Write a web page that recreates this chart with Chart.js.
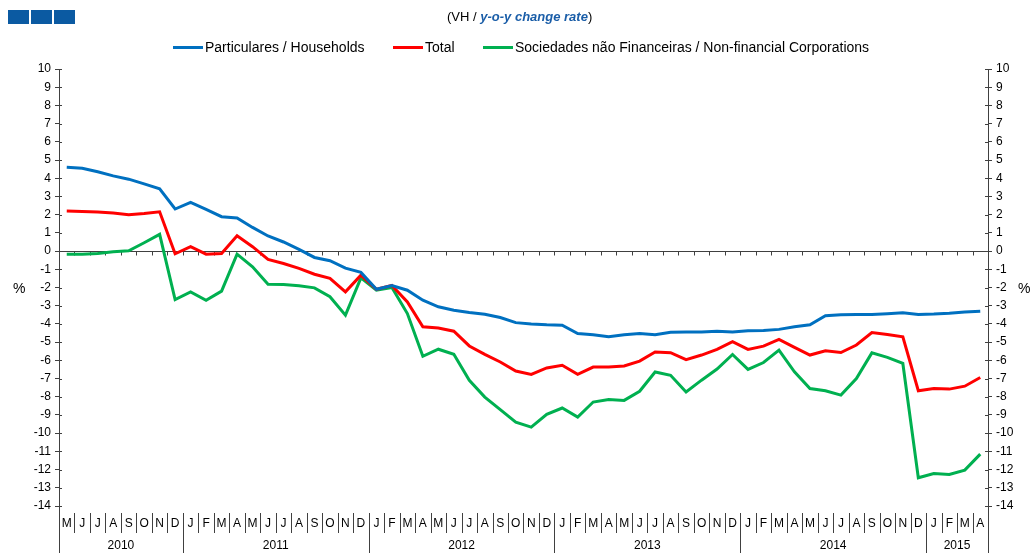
<!DOCTYPE html>
<html lang="pt">
<head>
  <meta charset="UTF-8">
  <title>VH / y-o-y change rate</title>
  <script src="https://cdn.jsdelivr.net/npm/chart.js"></script>
  <style>
    body { margin: 0; background: #fff; font-family: "Liberation Sans", Arial, sans-serif; color: #000; }
    #wrap { position: relative; width: 1031px; height: 553px; overflow: hidden; }
    #wrap canvas { position: absolute; left: 0; top: 0; }
    .sq { position: absolute; top: 10px; width: 21px; height: 14px; background: #0b5aa2; }
    #subtitle { position: absolute; top: 9px; left: 447px; font-size: 13px; white-space: nowrap; }
    #subtitle b { color: #1b5ea8; font-style: italic; }
    .leg { position: absolute; top: 39px; font-size: 14px; white-space: nowrap; }
    .leg span { display: inline-block; width: 30px; height: 3px; vertical-align: middle; margin-right: 2px; position: relative; top: -1px; }
    .pct { position: absolute; top: 280px; font-size: 14px; }
  </style>
</head>
<body>
  <div id="wrap">
    <canvas id="loansChart" width="1031" height="553"></canvas>
    <div class="sq" style="left:8px"></div>
    <div class="sq" style="left:31px"></div>
    <div class="sq" style="left:54px"></div>
    <div id="subtitle">(VH / <b>y-o-y change rate</b>)</div>
    <div class="leg" style="left:173px"><span style="background:#0070c0"></span>Particulares / Households</div>
    <div class="leg" style="left:393px"><span style="background:#ff0000"></span>Total</div>
    <div class="leg" style="left:483px"><span style="background:#00b050"></span>Sociedades não Financeiras / Non-financial Corporations</div>
    <div class="pct" style="left:13px">%</div>
    <div class="pct" style="left:1018px">%</div>
  </div>

  <script>
    // months May 2010 .. Apr 2015
    const months = ['M','J','J','A','S','O','N','D',
      'J','F','M','A','M','J','J','A','S','O','N','D',
      'J','F','M','A','M','J','J','A','S','O','N','D',
      'J','F','M','A','M','J','J','A','S','O','N','D',
      'J','F','M','A','M','J','J','A','S','O','N','D',
      'J','F','M','A'];
    const years = ['2010', '2011', '2012', '2013', '2014', '2015'];
    const yearLengths = [8, 12, 12, 12, 12, 4];

    const households = [4.6, 4.55, 4.36, 4.13, 3.95, 3.69, 3.42, 2.31, 2.68, 2.29,
      1.89, 1.82, 1.3, 0.83, 0.5, 0.09, -0.35, -0.53, -0.94, -1.17,
      -2.1, -1.89, -2.15, -2.7, -3.06, -3.25, -3.37, -3.47, -3.65, -3.93,
      -4.0, -4.05, -4.07, -4.53, -4.59, -4.71, -4.59, -4.53, -4.6, -4.46,
      -4.45, -4.45, -4.4, -4.45, -4.38, -4.36, -4.3, -4.16, -4.05, -3.55,
      -3.5, -3.48, -3.48, -3.44, -3.39, -3.48, -3.46, -3.42, -3.35, -3.3];
    const total = [2.2, 2.18, 2.15, 2.09, 2.0, 2.07, 2.16, -0.15, 0.24, -0.17,
      -0.13, 0.84, 0.24, -0.46, -0.68, -0.95, -1.27, -1.5, -2.24, -1.32,
      -2.1, -1.89, -2.79, -4.16, -4.22, -4.4, -5.21, -5.67, -6.09, -6.59,
      -6.77, -6.42, -6.27, -6.77, -6.37, -6.37, -6.31, -6.04, -5.54, -5.58,
      -5.96, -5.71, -5.4, -4.98, -5.4, -5.22, -4.85, -5.29, -5.71, -5.48,
      -5.57, -5.16, -4.47, -4.58, -4.71, -7.67, -7.55, -7.58, -7.42, -6.94];
    const corporations = [-0.18, -0.18, -0.13, -0.04, 0.02, 0.46, 0.92, -2.66, -2.24, -2.7,
      -2.2, -0.17, -0.86, -1.82, -1.83, -1.91, -2.02, -2.51, -3.52, -1.47,
      -2.15, -2.0, -3.43, -5.78, -5.39, -5.67, -7.1, -8.02, -8.71, -9.39,
      -9.67, -8.97, -8.62, -9.12, -8.29, -8.15, -8.2, -7.7, -6.64, -6.82,
      -7.74, -7.09, -6.48, -5.68, -6.5, -6.12, -5.44, -6.63, -7.55, -7.67,
      -7.91, -7.0, -5.59, -5.84, -6.17, -12.45, -12.22, -12.27, -12.03, -11.15];

    const axisColor = '#404040';

    // zero line, inner ticks and the two-row month/year axis at the bottom
    const axisDecor = {
      id: 'axisDecor',
      beforeDatasetsDraw(chart) {
        const { ctx, chartArea: a, scales: { x, y } } = chart;
        const step = x.getPixelForValue(1) - x.getPixelForValue(0);
        const y0 = Math.round(y.getPixelForValue(0)) + 0.5;
        ctx.save();
        ctx.strokeStyle = axisColor;
        ctx.lineWidth = 1;
        ctx.beginPath();
        ctx.moveTo(a.left, y0);
        ctx.lineTo(a.right, y0);
        for (let i = 0; i <= months.length; i++) {
          const px = Math.round(x.getPixelForValue(i) - step / 2) + 0.5;
          ctx.moveTo(px, y0);
          ctx.lineTo(px, y0 + 4);
        }
        // inner halves of the y ticks
        for (let v = -14; v <= 10; v++) {
          const py = Math.round(y.getPixelForValue(v)) + 0.5;
          ctx.moveTo(a.left, py);
          ctx.lineTo(a.left + 3, py);
          ctx.moveTo(a.right, py);
          ctx.lineTo(a.right - 3, py);
        }
        ctx.stroke();
        ctx.restore();
      },
      afterDraw(chart) {
        const { ctx, chartArea: a, scales: { x } } = chart;
        const step = x.getPixelForValue(1) - x.getPixelForValue(0);
        const h = chart.height;
        ctx.save();
        ctx.strokeStyle = axisColor;
        ctx.lineWidth = 1;
        ctx.beginPath();
        // y axes run down through the label rows
        ctx.moveTo(Math.round(a.left) + 0.5, a.bottom);
        ctx.lineTo(Math.round(a.left) + 0.5, h);
        ctx.moveTo(Math.round(a.right) + 0.5, a.bottom);
        ctx.lineTo(Math.round(a.right) + 0.5, h);
        let start = 0;
        const yearStarts = [];
        yearLengths.forEach(n => { yearStarts.push(start); start += n; });
        for (let i = 1; i < months.length; i++) {
          const px = Math.round(x.getPixelForValue(i) - step / 2) + 0.5;
          const isYear = yearStarts.includes(i);
          ctx.moveTo(px, a.bottom + 7);
          ctx.lineTo(px, isYear ? h : a.bottom + 27);
        }
        ctx.stroke();

        ctx.fillStyle = '#000';
        ctx.font = '12px "Liberation Sans", Arial, sans-serif';
        ctx.textAlign = 'center';
        ctx.textBaseline = 'middle';
        months.forEach((m, i) => {
          ctx.fillText(m, x.getPixelForValue(i), a.bottom + 18);
        });
        years.forEach((yr, k) => {
          const first = yearStarts[k];
          const last = first + yearLengths[k] - 1;
          const cx = (x.getPixelForValue(first) + x.getPixelForValue(last)) / 2;
          ctx.fillText(yr, cx, a.bottom + 40);
        });
        ctx.restore();
      }
    };

    function yAxis(position, width) {
      return {
        type: 'linear',
        position: position,
        min: -14,
        max: 10,
        afterFit(scale) { scale.width = width; },
        border: { display: true, color: axisColor, width: 1 },
        grid: { drawOnChartArea: false, drawTicks: true, tickLength: 4, color: axisColor },
        ticks: {
          stepSize: 1,
          padding: 4,
          color: '#000',
          font: { family: '"Liberation Sans", Arial, sans-serif', size: 12 }
        }
      };
    }

    const ctx = document.getElementById('loansChart').getContext('2d');
    new Chart(ctx, {
      type: 'line',
      data: {
        labels: months,
        datasets: [
          { label: 'Particulares / Households', data: households, borderColor: '#0070c0' },
          { label: 'Total', data: total, borderColor: '#ff0000' },
          { label: 'Sociedades não Financeiras / Non-financial Corporations', data: corporations, borderColor: '#00b050' }
        ]
      },
      options: {
        responsive: false,
        animation: false,
        datasets: { line: { borderWidth: 3, pointRadius: 0, tension: 0, fill: false } },
        layout: { padding: { top: 69, bottom: 47, left: 0, right: 0 } },
        plugins: { legend: { display: false }, tooltip: { enabled: false } },
        scales: {
          x: { type: 'category', offset: true, display: false },
          y: yAxis('left', 59),
          y2: yAxis('right', 43)
        }
      },
      plugins: [axisDecor]
    });
  </script>
</body>
</html>
